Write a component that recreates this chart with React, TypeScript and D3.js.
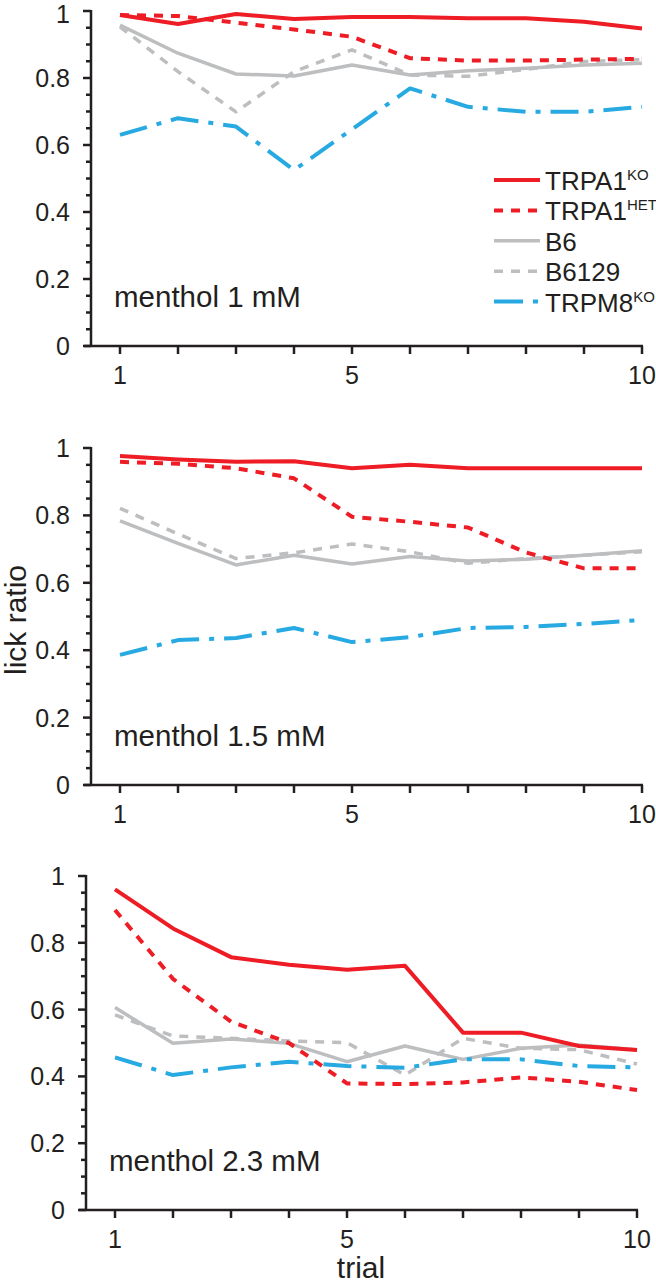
import * as d3 from 'd3'

// trials on the x axis
const trials = [1, 2, 3, 4, 5, 6, 7, 8, 9, 10]
const xTickLabels = [1, 5, 10]
const yTickLabels = [0, 0.2, 0.4, 0.6, 0.8, 1]

const seriesNames = ['TRPA1', 'TRPA1', 'B6', 'B6129', 'TRPM8']
const seriesSup = ['KO', 'HET', '', '', 'KO']

// menthol 1 mM
const ko1 = [0.988, 0.961, 0.991, 0.976, 0.982, 0.982, 0.978, 0.978, 0.968, 0.948]
const het1 = [0.988, 0.985, 0.965, 0.945, 0.923, 0.859, 0.852, 0.852, 0.855, 0.857]
const b6_1 = [0.958, 0.874, 0.812, 0.806, 0.839, 0.809, 0.822, 0.829, 0.839, 0.844]
const b6129_1 = [0.953, 0.819, 0.699, 0.819, 0.884, 0.809, 0.805, 0.826, 0.849, 0.855]
const m8_1 = [0.63, 0.68, 0.655, 0.525, 0.647, 0.769, 0.714, 0.699, 0.699, 0.714]

// menthol 1.5 mM
const ko2 = [0.976, 0.966, 0.959, 0.961, 0.94, 0.95, 0.94, 0.94, 0.94, 0.94]
const het2 = [0.959, 0.953, 0.94, 0.91, 0.796, 0.781, 0.764, 0.69, 0.643, 0.643]
const b6_2 = [0.784, 0.717, 0.653, 0.682, 0.656, 0.678, 0.665, 0.67, 0.682, 0.695]
const b6129_2 = [0.821, 0.745, 0.672, 0.689, 0.715, 0.692, 0.658, 0.672, 0.682, 0.692]
const m8_2 = [0.386, 0.43, 0.436, 0.466, 0.424, 0.439, 0.466, 0.469, 0.478, 0.49]

// menthol 2.3 mM
const ko3 = [0.96, 0.843, 0.757, 0.734, 0.719, 0.731, 0.531, 0.531, 0.491, 0.479]
const het3 = [0.898, 0.692, 0.564, 0.5, 0.379, 0.377, 0.382, 0.397, 0.384, 0.359]
const b6_3 = [0.606, 0.499, 0.512, 0.499, 0.444, 0.491, 0.451, 0.484, 0.494, 0.48]
const b6129_3 = [0.584, 0.521, 0.514, 0.506, 0.501, 0.404, 0.514, 0.484, 0.48, 0.437]
const m8_3 = [0.457, 0.404, 0.427, 0.444, 0.431, 0.426, 0.451, 0.451, 0.431, 0.427]

const RED = '#ee1c25'
const GRAY = '#bdbec0'
const BLUE = '#27a9e1'
const INK = '#231f20'
const FONT = 'Liberation Sans, Arial, sans-serif'

// style of each series
const styles = [
  { color: RED, dash: 'none', w: 4 },
  { color: RED, dash: '9,8', w: 4 },
  { color: GRAY, dash: 'none', w: 3.5 },
  { color: GRAY, dash: '9,8', w: 3.5 },
  { color: BLUE, dash: '28,10,5,10', w: 4 },
]
// draw order: grays under blue under reds
const drawOrder = [3, 2, 4, 1, 0]

const panels = [
  { label: 'menthol 1 mM', data: [ko1, het1, b6_1, b6129_1, m8_1], top: 11, bottom: 346, axisX: 91, left: 120, right: 642, legend: true },
  { label: 'menthol 1.5 mM', data: [ko2, het2, b6_2, b6129_2, m8_2], top: 448, bottom: 785, axisX: 91, left: 120, right: 642, legend: false },
  { label: 'menthol 2.3 mM', data: [ko3, het3, b6_3, b6129_3, m8_3], top: 876, bottom: 1210, axisX: 86, left: 115, right: 637, legend: false },
]

function Panel({ p }: { p: (typeof panels)[number] }) {
  const x = d3.scaleLinear([1, 10], [p.left, p.right])
  const y = d3.scaleLinear([0, 1], [p.bottom, p.top])
  const line = d3
    .line<number>()
    .x((_, i) => x(trials[i]))
    .y((d) => y(d))
  const minor = d3.range(0, 1.0001, 0.05)

  return (
    <g>
      {drawOrder.map((k) => (
        <path
          key={k}
          d={line(p.data[k]) || ''}
          fill="none"
          stroke={styles[k].color}
          strokeWidth={styles[k].w}
          strokeDasharray={styles[k].dash}
          strokeLinejoin="round"
        />
      ))}
      {/* axes */}
      <g stroke={INK} strokeWidth={2.5}>
        <line x1={p.axisX} x2={p.axisX} y1={y(1) - 1} y2={y(0)} />
        <line x1={p.axisX - 7} x2={p.right + 1} y1={y(0)} y2={y(0)} />
        {minor.map((t, i) => (
          <line key={i} x1={p.axisX - (i % 4 === 0 ? 8 : 5)} x2={p.axisX} y1={y(t)} y2={y(t)} />
        ))}
        {trials.map((t) => (
          <line key={t} x1={x(t)} x2={x(t)} y1={y(0)} y2={y(0) + 8} />
        ))}
      </g>
      <g fill={INK} fontFamily={FONT} fontSize={25}>
        {yTickLabels.map((t) => (
          <text key={t} x={p.axisX - 21} y={Math.max(y(t) + 9, 23)} textAnchor="end">
            {t}
          </text>
        ))}
        {xTickLabels.map((t) => (
          <text key={t} x={x(t)} y={y(0) + 38} textAnchor="middle">
            {t}
          </text>
        ))}
      </g>
      <text x={p.axisX + 23} y={y(0) - 39} fill={INK} fontFamily={FONT} fontSize={29.5}>
        {p.label}
      </text>
      {p.legend && (
        <g fontFamily={FONT} fill={INK}>
          {seriesNames.map((name, k) => {
            const cy = 180 + k * 30.4
            return (
              <g key={k}>
                <line
                  x1={494}
                  x2={540}
                  y1={cy}
                  y2={cy}
                  stroke={styles[k].color}
                  strokeWidth={styles[k].w}
                  strokeDasharray={k === 4 ? '29,10,5,10' : styles[k].dash}
                />
                <text x={545} y={cy + 10} fontSize={26}>
                  {name}
                  {seriesSup[k] && (
                    <tspan fontSize={15} dy={-10}>
                      {seriesSup[k]}
                    </tspan>
                  )}
                </text>
              </g>
            )
          })}
        </g>
      )}
    </g>
  )
}

export default function App() {
  return (
    <svg
      width={656}
      height={1285}
      style={{ position: 'absolute', left: 0, top: 0, background: '#fff' }}
    >
      <rect width={656} height={1285} fill="#fff" />
      {panels.map((p, i) => (
        <Panel key={i} p={p} />
      ))}
      <text
        transform="translate(26,620) rotate(-90)"
        textAnchor="middle"
        fill={INK}
        fontFamily={FONT}
        fontSize={30}
      >
        lick ratio
      </text>
      <text x={361} y={1278} textAnchor="middle" fill={INK} fontFamily={FONT} fontSize={30}>
        trial
      </text>
    </svg>
  )
}
